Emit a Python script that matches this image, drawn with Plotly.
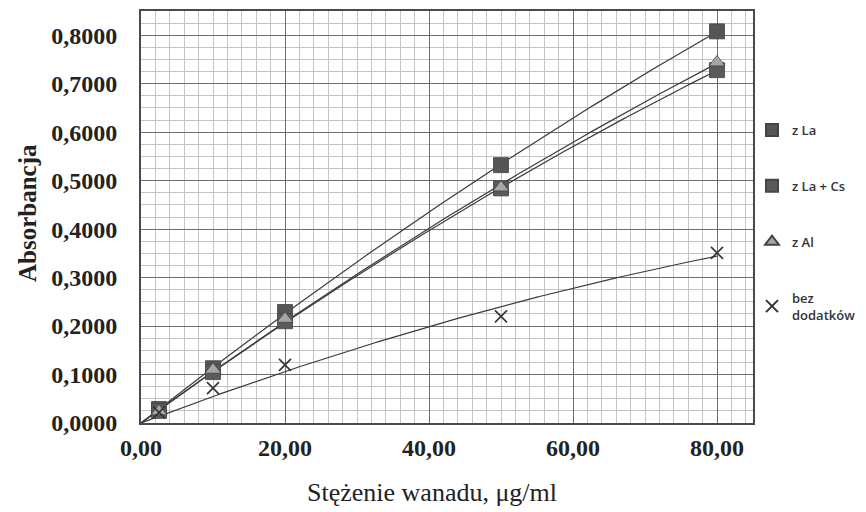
import numpy as np
import plotly.graph_objects as go

conc = [2.5, 10, 20, 50, 80]
z_la = [0.029, 0.113, 0.229, 0.532, 0.808]
z_la_cs = [0.025, 0.105, 0.210, 0.484, 0.728]
z_al = [0.024, 0.110, 0.215, 0.486, 0.744]
bez = [0.022, 0.072, 0.120, 0.220, 0.351]

names = ["z La", "z La + Cs", "z Al", "bez<br>dodatków"]
series = [z_la, z_la_cs, z_al, bez]
symbols = ["square", "square", "triangle-up", "x-thin"]
mcolors = ["#555555", "#5a5a5a", "#a6a6a6", "#333333"]
msizes = [15, 15, 14, 12]

x_ticks = [0, 20, 40, 60, 80]
y_ticks = [0, 0.1, 0.2, 0.3, 0.4, 0.5, 0.6, 0.7, 0.8]

fig = go.Figure()

xs = np.array(conc, dtype=float)
A = np.vstack([xs, xs ** 2]).T
xfit = np.linspace(0, 80, 161)
for s in series:
    coef, *_ = np.linalg.lstsq(A, np.array(s), rcond=None)
    yfit = coef[0] * xfit + coef[1] * xfit ** 2
    fig.add_trace(go.Scatter(x=xfit, y=yfit, mode="lines", showlegend=False,
                             line=dict(color="#3a3a3a", width=1.2), hoverinfo="skip"))

for i, (nm, s) in enumerate(zip(names, series)):
    if symbols[i] == "x-thin":
        marker = dict(symbol="x-thin", size=msizes[i], line=dict(color=mcolors[i], width=1.6))
    else:
        marker = dict(symbol=symbols[i], size=msizes[i], color=mcolors[i],
                      line=dict(color="#444444", width=0.8))
    fig.add_trace(go.Scatter(x=conc, y=s, mode="markers", name=nm, marker=marker,
                             legendgroup=str(i)))

# page has an 8px body margin, so the figure is drawn 8px in from the window edge
W, H = 858, 504
fig.update_layout(
    width=W, height=H,
    margin=dict(l=133, r=113, t=3, b=89, autoexpand=False),
    paper_bgcolor="white", plot_bgcolor="white",
    separators=", ",
    showlegend=True,
    legend=dict(xref="container", yref="container", x=744 / W, y=1 - 107 / H,
                xanchor="left", yanchor="top",
                font=dict(family="Open Sans", size=13, color="#333333", weight=600),
                tracegroupgap=36, itemsizing="constant", bgcolor="rgba(0,0,0,0)"),
    xaxis=dict(range=[0, 85], tickvals=x_ticks, tickformat=".2f", automargin=False,
               showgrid=True, gridcolor="#6e6e6e", gridwidth=1.3,
               minor=dict(dtick=2, showgrid=True, gridcolor="#c4c4c4", gridwidth=1),
               showline=True, mirror=True, linecolor="#4a4a4a", linewidth=2,
               zeroline=False, ticks="", ticklabelstandoff=2,
               tickfont=dict(family="Liberation Serif", size=24, color="#222222", weight="bold")),
    yaxis=dict(range=[0, 0.85], tickvals=y_ticks, tickformat=".4f", automargin=False,
               showgrid=True, gridcolor="#6e6e6e", gridwidth=1.3,
               minor=dict(dtick=0.025, showgrid=True, gridcolor="#c4c4c4", gridwidth=1),
               showline=True, mirror=True, linecolor="#4a4a4a", linewidth=2,
               zeroline=False, ticks="", ticklabelstandoff=17,
               tickfont=dict(family="Liberation Serif", size=24, color="#222222", weight="bold")),
    annotations=[
        dict(text="Stężenie wanadu, μg/ml", xref="paper", yref="paper",
             x=(432 - 141) / 612, y=-(492 - 423) / 412, xanchor="center", yanchor="middle",
             showarrow=False, font=dict(family="Liberation Serif", size=26, color="#222222")),
        dict(text="<b>Absorbancja</b>", xref="paper", yref="paper", textangle=-90,
             x=-(141 - 27) / 612, y=(423 - 213) / 412, xanchor="center", yanchor="middle",
             showarrow=False, font=dict(family="Liberation Serif", size=25, color="#222222")),
    ],
)

fig.write_html("out.html")
